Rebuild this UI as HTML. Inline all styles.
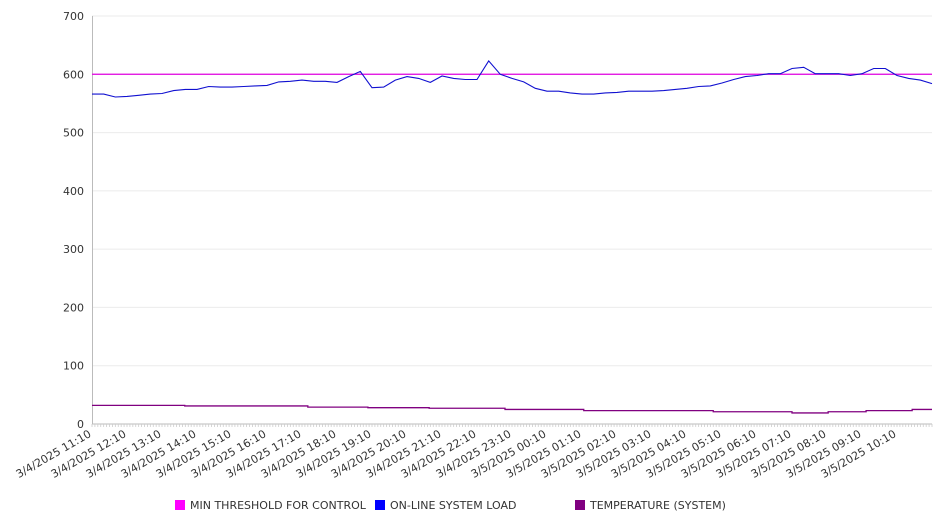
<!DOCTYPE html>
<html><head><meta charset="utf-8"><style>
body{margin:0;background:#fff;font-family:"DejaVu Sans","Liberation Sans",sans-serif}
svg text{font-family:"DejaVu Sans","Liberation Sans",sans-serif;fill:#333}
</style></head><body>
<svg id="chart" width="946" height="526" xmlns="http://www.w3.org/2000/svg"></svg>
<script>
const xTickLabels=["3/4/2025 11:10","3/4/2025 12:10","3/4/2025 13:10","3/4/2025 14:10","3/4/2025 15:10","3/4/2025 16:10","3/4/2025 17:10","3/4/2025 18:10","3/4/2025 19:10","3/4/2025 20:10","3/4/2025 21:10","3/4/2025 22:10","3/4/2025 23:10","3/5/2025 00:10","3/5/2025 01:10","3/5/2025 02:10","3/5/2025 03:10","3/5/2025 04:10","3/5/2025 05:10","3/5/2025 06:10","3/5/2025 07:10","3/5/2025 08:10","3/5/2025 09:10","3/5/2025 10:10"];
const yTicks=[0,100,200,300,400,500,600,700];
const threshold=600;
// on-line system load, every 20 minutes from 3/4/2025 11:10
const loadValues=[566,566,561,562,564,566,567,572,574,574,579,578,578,579,580,581,587,588,590,588,588,586,596,605,577,578,590,596,593,586,597,593,591,591,623,600,593,587,576,571,571,568,566,566,568,569,571,571,571,572,574,576,579,580,585,591,596,598,601,601,610,612,601,601,601,598,601,610,610,598,593,590,584];
const loadStepMinutes=20;
// temperature step changes: minutes from 11:10, value
const tempMinutes=[0,159,370,473,578,708,843,1065,1200,1262,1327,1406,1440];
const tempValues=[32,31,29,28,27,25,23,21,19,21,23,25,25];

const svg=document.getElementById('chart');
const NS='http://www.w3.org/2000/svg';
const X0=92,X1=932,Y0=424,Y1=16,YMAX=700,TOTAL=1440;
const xs=m=>X0+m/TOTAL*(X1-X0);
const ys=v=>Y0-v/YMAX*(Y0-Y1);
function mk(t,a,p){const e=document.createElementNS(NS,t);for(const k in a)e.setAttribute(k,a[k]);(p||svg).appendChild(e);return e;}

yTicks.forEach(v=>{
  const g=mk('line',{x1:X0,x2:X1,y1:ys(v),y2:ys(v),stroke:v===0?'#bbb':'#ebebeb','stroke-width':1});
  
  
  const t=mk('text',{x:84,y:ys(v)+4,'text-anchor':'end','font-size':11});
  t.textContent=v;
  
  
});
const ax=mk('line',{x1:X0+0.5,x2:X0+0.5,y1:Y1,y2:Y0,stroke:'#bbb'});


for(let m=0;m<=TOTAL;m+=5){
  const tk=mk('line',{x1:xs(m),x2:xs(m),y1:Y0,y2:Y0+3,stroke:'#ccc','stroke-width':0.8});
  
  
}
xTickLabels.forEach((l,i)=>{
  const x=xs(i*60),y=Y0+12;
  const t=mk('text',{x:x,y:y,'text-anchor':'end','font-size':11,transform:`rotate(-30 ${x} ${y})`});
  t.textContent=l;
  
  
});
const th=mk('line',{x1:X0,x2:X1,y1:ys(threshold),y2:ys(threshold),stroke:'#e000e0','stroke-width':1.2});


const lp=loadValues.map((v,i)=>`${xs(Math.min(i*loadStepMinutes,TOTAL)).toFixed(1)},${ys(v).toFixed(1)}`).join(' ');
const ll=mk('polyline',{points:lp,fill:'none',stroke:'#1010d0','stroke-width':1.1});


let tp=[];
tempMinutes.forEach((m,i)=>{ if(i>0) tp.push(`${xs(m)},${ys(tempValues[i-1])}`); tp.push(`${xs(m)},${ys(tempValues[i])}`); });
const tl=mk('polyline',{points:tp.join(' '),fill:'none',stroke:'#800080','stroke-width':1.3});



const legend=[["MIN THRESHOLD FOR CONTROL","#ff00ff",175],["ON-LINE SYSTEM LOAD","#0000ff",375],["TEMPERATURE (SYSTEM)","#800080",575]];
legend.forEach(([n,c,x])=>{
  const r=mk('rect',{x:x,y:500,width:10,height:10,fill:c});
  
  
  const t=mk('text',{x:x+15,y:509,'font-size':11});
  t.textContent=n;
  
  
});
</script>
</body></html>
